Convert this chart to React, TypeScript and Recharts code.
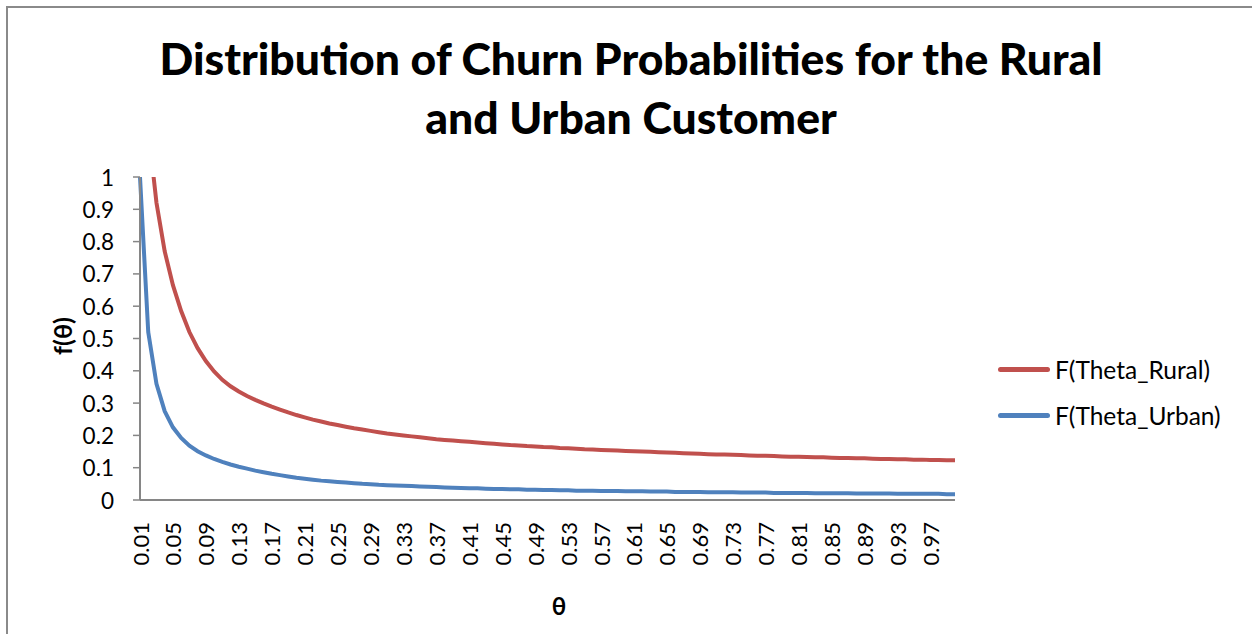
import React from "react";
import { LineChart, Line, XAxis, YAxis } from "recharts";

const thetaLabels: string[] = [
  "0.01","0.02","0.03","0.04","0.05","0.06","0.07","0.08","0.09","0.10",
  "0.11","0.12","0.13","0.14","0.15","0.16","0.17","0.18","0.19","0.20",
  "0.21","0.22","0.23","0.24","0.25","0.26","0.27","0.28","0.29","0.30",
  "0.31","0.32","0.33","0.34","0.35","0.36","0.37","0.38","0.39","0.40",
  "0.41","0.42","0.43","0.44","0.45","0.46","0.47","0.48","0.49","0.50",
  "0.51","0.52","0.53","0.54","0.55","0.56","0.57","0.58","0.59","0.60",
  "0.61","0.62","0.63","0.64","0.65","0.66","0.67","0.68","0.69","0.70",
  "0.71","0.72","0.73","0.74","0.75","0.76","0.77","0.78","0.79","0.80",
  "0.81","0.82","0.83","0.84","0.85","0.86","0.87","0.88","0.89","0.90",
  "0.91","0.92","0.93","0.94","0.95","0.96","0.97","0.98","0.99","1.00",
];

const rural: number[] = [
  1.75, 1.15, 0.92, 0.77, 0.665, 0.585, 0.52, 0.47, 0.43, 0.398,
  0.372, 0.352, 0.336, 0.322, 0.31, 0.299, 0.289, 0.28, 0.271, 0.263,
  0.256, 0.249, 0.243, 0.237, 0.232, 0.227, 0.222, 0.218, 0.214, 0.21,
  0.206, 0.203, 0.2, 0.197, 0.194, 0.191, 0.188, 0.186, 0.184, 0.182,
  0.18, 0.178, 0.176, 0.174, 0.172, 0.17, 0.169, 0.167, 0.166, 0.164,
  0.163, 0.161, 0.16, 0.159, 0.157, 0.156, 0.155, 0.154, 0.153, 0.152,
  0.151, 0.15, 0.149, 0.148, 0.147, 0.146, 0.145, 0.144, 0.143, 0.142,
  0.141, 0.141, 0.14, 0.139, 0.138, 0.137, 0.137, 0.136, 0.135, 0.134,
  0.134, 0.133, 0.132, 0.132, 0.131, 0.13, 0.13, 0.129, 0.129, 0.128,
  0.127, 0.127, 0.126, 0.126, 0.125, 0.125, 0.124, 0.124, 0.123, 0.123,
];

const urban: number[] = [
  1.0, 0.52, 0.36, 0.275, 0.225, 0.192, 0.168, 0.151, 0.138, 0.127,
  0.118, 0.11, 0.103, 0.097, 0.091, 0.086, 0.081, 0.077, 0.073, 0.069,
  0.066, 0.063, 0.06, 0.058, 0.056, 0.054, 0.052, 0.05, 0.049, 0.047,
  0.046, 0.045, 0.044, 0.043, 0.042, 0.041, 0.04, 0.039, 0.038, 0.037,
  0.036, 0.036, 0.035, 0.034, 0.034, 0.033, 0.033, 0.032, 0.032, 0.031,
  0.031, 0.03, 0.03, 0.029, 0.029, 0.029, 0.028, 0.028, 0.028, 0.027,
  0.027, 0.027, 0.026, 0.026, 0.026, 0.025, 0.025, 0.025, 0.025, 0.024,
  0.024, 0.024, 0.024, 0.023, 0.023, 0.023, 0.023, 0.022, 0.022, 0.022,
  0.022, 0.022, 0.021, 0.021, 0.021, 0.021, 0.021, 0.02, 0.02, 0.02,
  0.02, 0.02, 0.019, 0.019, 0.019, 0.019, 0.019, 0.019, 0.018, 0.018,
];

const yTicks: number[] = [0, 0.1, 0.2, 0.3, 0.4, 0.5, 0.6, 0.7, 0.8, 0.9, 1];
const seriesNames = ["F(Theta_Rural)", "F(Theta_Urban)"];
const seriesColors = ["#C0504D", "#4F81BD"];

const data = thetaLabels.map((t, i) => ({ theta: t, rural: rural[i], urban: urban[i] }));

const FONT = "Lato, 'Open Sans', sans-serif";
const AXIS = "#868686";

const XTick = (props: any) => {
  const { x, y, payload } = props;
  return (
    <text
      x={0}
      y={0}
      transform={`translate(${x},${y + 14}) rotate(-90)`}
      textAnchor="end"
      dominantBaseline="central"
      fontSize={22}
      fontFamily={FONT}
      fill="#000"
    >
      {payload.value}
    </text>
  );
};

const YTick = (props: any) => {
  const { y, payload } = props;
  return (
    <text x={114} y={y} textAnchor="end" dominantBaseline="central" fontSize={22.5} fontFamily={FONT} fill="#000">
      {String(payload.value)}
    </text>
  );
};

export default function App() {
  return (
    <div style={{ position: "absolute", left: 0, top: 0, width: 1252, height: 634, background: "#fff", overflow: "hidden" }}>
      <div
        style={{
          position: "absolute",
          left: 6,
          top: 6,
          width: 1300,
          height: 700,
          borderLeft: "2px solid #8a8a8a",
          borderTop: "2px solid #8a8a8a",
        }}
      />
      <div
        style={{
          position: "absolute",
          left: 0,
          top: 28,
          width: 1262,
          textAlign: "center",
          fontFamily: FONT,
          fontWeight: 900,
          fontSize: 44.5,
          lineHeight: "59px",
          color: "#000",
        }}
      >
        Distribution of Churn Probabilities for the Rural
        <br />
        and Urban Customer
      </div>
      <div
        style={{
          position: "absolute",
          left: 62,
          top: 336,
          transform: "translate(-50%,-50%) rotate(-90deg)",
          fontFamily: FONT,
          fontWeight: 700,
          fontSize: 25,
          whiteSpace: "nowrap",
        }}
      >
        f(θ)
      </div>
      <div
        style={{
          position: "absolute",
          left: 559,
          top: 605,
          transform: "translate(-50%,-50%)",
          fontFamily: FONT,
          fontWeight: 700,
          fontSize: 24,
        }}
      >
        θ
      </div>
      <div style={{ position: "absolute", left: 998, top: 346, fontFamily: FONT, fontSize: 24.5, color: "#000" }}>
        {seriesNames.map((n, i) => (
          <div key={n} style={{ display: "flex", alignItems: "center", height: 46 }}>
            <div style={{ width: 52, height: 5, borderRadius: 3, background: seriesColors[i], marginRight: 5 }} />
            <span>{n}</span>
          </div>
        ))}
      </div>
      <div style={{ position: "absolute", left: 0, top: 0 }}>
        <LineChart width={1252} height={634} data={data} margin={{ top: 177, right: 297, left: 0, bottom: 0 }}>
          <XAxis
            dataKey="theta"
            interval={3}
            height={134}
            tick={<XTick />}
            tickLine={false}
            axisLine={{ stroke: AXIS, strokeWidth: 2 }}
          />
          <YAxis
            type="number"
            domain={[0, 1]}
            ticks={yTicks}
            allowDataOverflow
            width={140}
            tick={<YTick />}
            tickSize={7}
            tickLine={{ stroke: AXIS, strokeWidth: 1.5 }}
            axisLine={{ stroke: AXIS, strokeWidth: 2 }}
          />
          <Line type="linear" dataKey="rural" name={seriesNames[0]} stroke={seriesColors[0]} strokeWidth={4} dot={false} isAnimationActive={false} />
          <Line type="linear" dataKey="urban" name={seriesNames[1]} stroke={seriesColors[1]} strokeWidth={4} dot={false} isAnimationActive={false} />
        </LineChart>
      </div>
    </div>
  );
}
